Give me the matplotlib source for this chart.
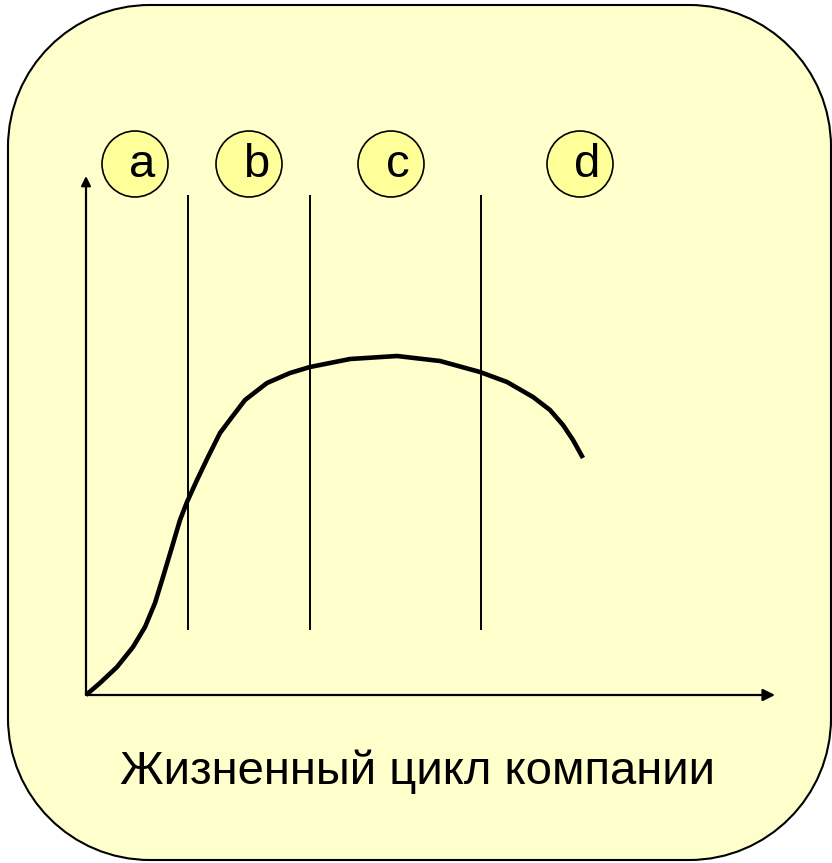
import matplotlib
matplotlib.use('Agg')
import matplotlib.pyplot as plt
from matplotlib.patches import Circle, PathPatch
from matplotlib.path import Path

plt.rcParams['font.family'] = ['Liberation Sans', 'DejaVu Sans']

# кривая жизненного цикла (условные единицы)
curve_x = [0, 1.4, 3.1, 4.7, 5.9, 6.9, 7.7, 8.6, 9.4, 10.1, 11.1, 12.2, 13.4, 14.6,
           15.9, 18.1, 20.4, 22.4, 26.4, 31.1, 35.4, 39.4, 42.1, 44.7, 46.4, 47.7,
           48.7, 49.7]
curve_y = [0, 1.2, 2.8, 4.8, 6.8, 9.2, 11.8, 14.8, 17.5, 19.3, 21.5, 23.8, 26.2, 27.8,
           29.5, 31.2, 32.2, 32.8, 33.6, 33.9, 33.4, 32.3, 31.3, 29.8, 28.5, 27.0,
           25.5, 23.7]

# границы стадий
stage_bounds = [10.2, 22.4, 39.5]
stage_names = ['a', 'b', 'c', 'd']
stage_centers = [4.9, 16.3, 30.5, 49.4]
title = 'Жизненный цикл компании'


def rounded_rect(x0, y0, x1, y1, r):
    k = 0.5523 * r
    verts = [(x0 + r, y0), (x1 - r, y0),
             (x1 - r + k, y0), (x1, y0 + r - k), (x1, y0 + r),
             (x1, y1 - r),
             (x1, y1 - r + k), (x1 - r + k, y1), (x1 - r, y1),
             (x0 + r, y1),
             (x0 + r - k, y1), (x0, y1 - r + k), (x0, y1 - r),
             (x0, y0 + r),
             (x0, y0 + r - k), (x0 + r - k, y0), (x0 + r, y0),
             (x0 + r, y0)]
    codes = [Path.MOVETO, Path.LINETO,
             Path.CURVE4, Path.CURVE4, Path.CURVE4,
             Path.LINETO,
             Path.CURVE4, Path.CURVE4, Path.CURVE4,
             Path.LINETO,
             Path.CURVE4, Path.CURVE4, Path.CURVE4,
             Path.LINETO,
             Path.CURVE4, Path.CURVE4, Path.CURVE4,
             Path.CLOSEPOLY]
    return Path(verts, codes)


fig = plt.figure(figsize=(8.32, 8.63), dpi=100)
ax = fig.add_axes([0, 0, 1, 1])
ax.set_xlim(-8.6, 74.6)
ax.set_ylim(-16.8, 69.5)
ax.axis('off')

# фон - скругленный прямоугольник
ax.add_patch(PathPatch(rounded_rect(-7.8, -16.5, 74.5, 69.0, 14.2),
                       facecolor='#FFFFCC', edgecolor='black', linewidth=1.5))

# оси со стрелками
ax.annotate('', xy=(68.9, 0), xytext=(0, 0),
            arrowprops=dict(arrowstyle='-|>', color='black', lw=1.6, mutation_scale=18,
                            shrinkA=0, shrinkB=0))
ax.annotate('', xy=(0, 51.9), xytext=(0, 0),
            arrowprops=dict(arrowstyle='-|>', color='black', lw=1.6, mutation_scale=14,
                            shrinkA=0, shrinkB=0))

# вертикальные линии стадий
ax.vlines(stage_bounds, 6.5, 50.0, color='black', linewidth=1.4)

# кривая
ax.plot(curve_x, curve_y, color='black', linewidth=3.3, solid_joinstyle='round',
        solid_capstyle='butt')

# кружки с буквами
for name, cx in zip(stage_names, stage_centers):
    ax.add_patch(Circle((cx, 53.1), 3.3, facecolor='#FFFF99', edgecolor='black', linewidth=1.2))
    ax.text(cx + 0.7, 53.0, name, fontsize=34, ha='center', va='center')

ax.text(33.1, -7.7, title, fontsize=34, ha='center', va='center')

fig.savefig('out.png', dpi=100)
